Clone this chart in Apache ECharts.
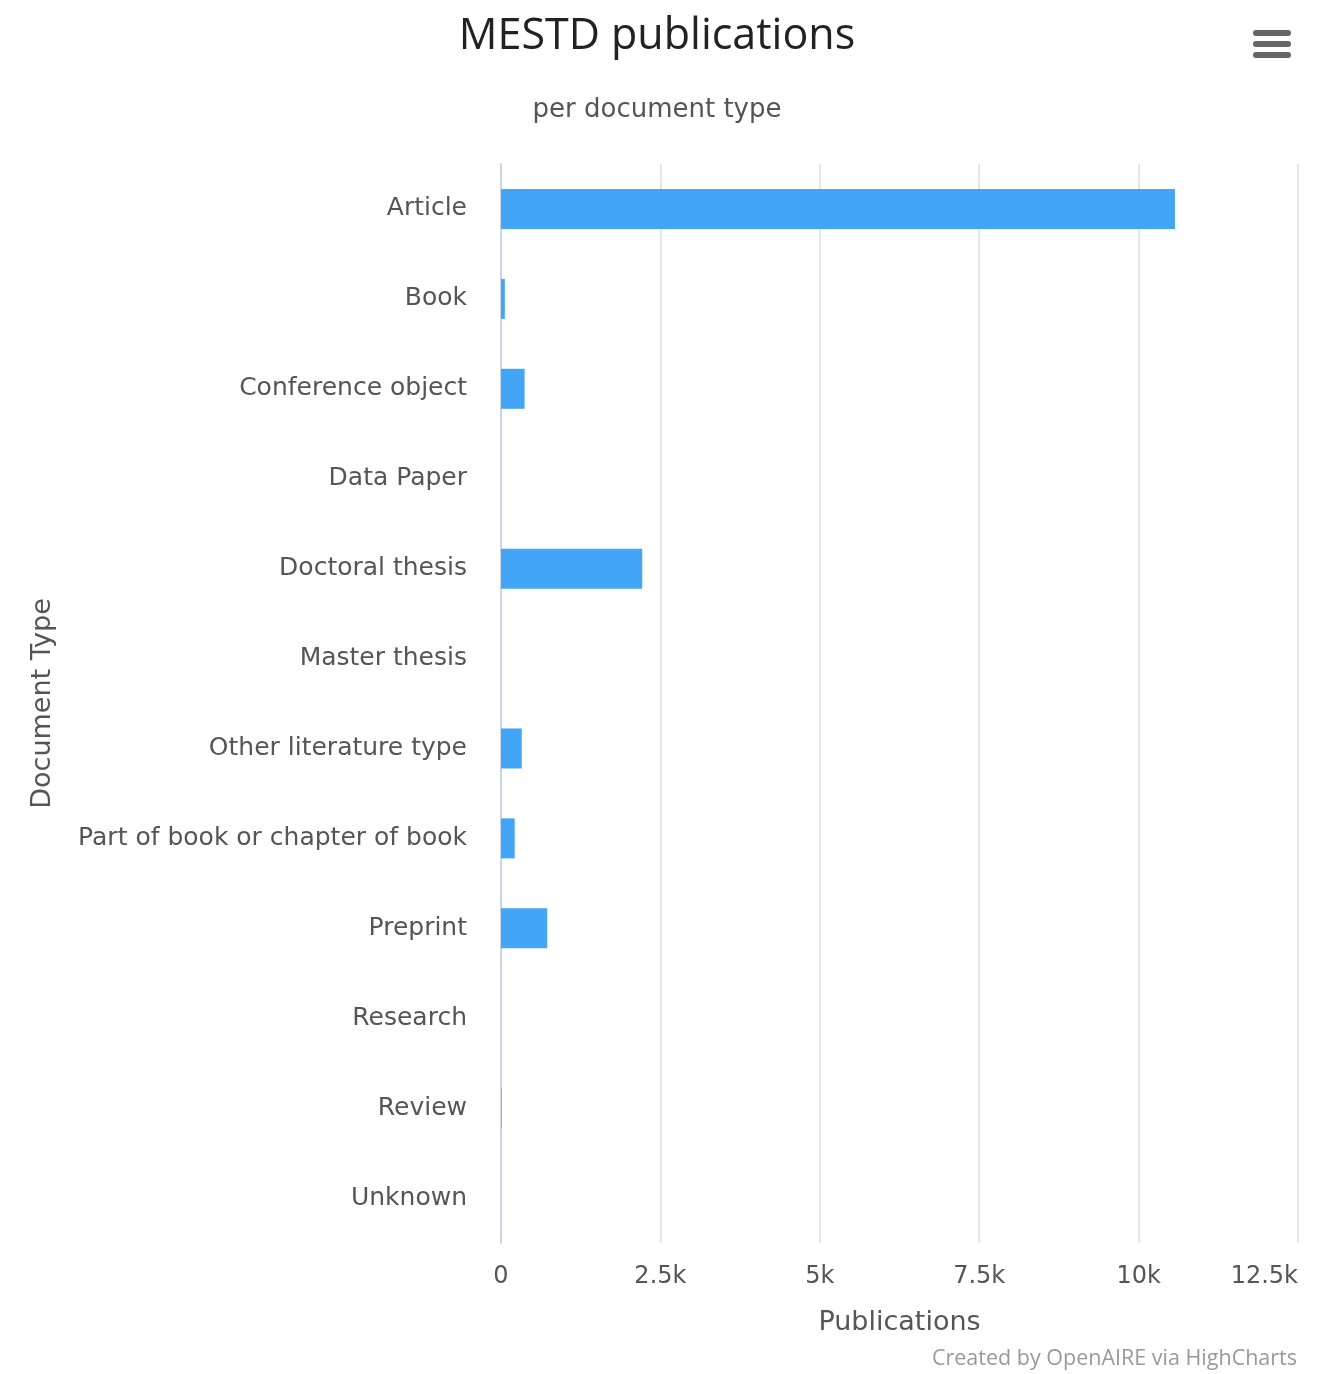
<!DOCTYPE html>
<html>
<head>
<meta charset="utf-8">
<script src="https://cdn.jsdelivr.net/npm/echarts@6/dist/echarts.min.js"></script>
<style>
html,body{margin:0;padding:0;background:#fff;}
#c{width:1332px;height:1374px;}
</style>
</head>
<body>
<div id="c"></div>
<script>
const categories = ["Article","Book","Conference object","Data Paper","Doctoral thesis","Master thesis","Other literature type","Part of book or chapter of book","Preprint","Research","Review","Unknown"];
const publications = [10570, 60, 370, 0, 2215, 0, 325, 215, 725, 0, 8, 0];
const xTicks = [0, 2500, 5000, 7500, 10000, 12500];

const FONT = '"DejaVu Sans", Verdana, sans-serif';
const TFONT = '"Open Sans", "DejaVu Sans", sans-serif';
const chart = echarts.init(document.getElementById('c'), null, {renderer:'canvas'});
chart.setOption({
  animation:false,
  backgroundColor:'#fff',
  grid:{left:501, right:34, top:164, bottom:131, containLabel:false},
  xAxis:{
    type:'value', min:xTicks[0], max:xTicks[xTicks.length-1], interval:2500,
    name:'Publications', nameLocation:'middle', nameGap:66,
    nameTextStyle:{fontFamily:FONT, fontSize:27, color:'#555'},
    axisLine:{show:false}, axisTick:{show:false},
    splitLine:{show:true, lineStyle:{color:'#e6e6e6', width:2}},
    axisLabel:{fontFamily:FONT, fontSize:24, color:'#555', margin:22, alignMaxLabel:'right',
      formatter:function(v){ return v===0 ? '0' : (v/1000)+'k'; }}
  },
  yAxis:{
    type:'category', data:categories, inverse:true,
    name:'Document Type', nameLocation:'middle', nameGap:445, nameRotate:90,
    nameTextStyle:{fontFamily:FONT, fontSize:27, color:'#555'},
    axisLine:{show:true, lineStyle:{color:'#ccd6eb', width:2}},
    axisTick:{show:false},
    axisLabel:{fontFamily:FONT, fontSize:25, color:'#555', margin:34}
  },
  series:[{
    type:'bar', data:publications, barWidth:40,
    itemStyle:{color:'#42a5f5'}
  }],
  graphic:[
    {type:'text', x:657, y:15, style:{text:'MESTD publications', textAlign:'center', fontFamily:TFONT, fontSize:43, fill:'#222'}},
    {type:'text', x:657, y:97, style:{text:'per document type', textAlign:'center', fontFamily:FONT, fontSize:26, fill:'#555'}},
    {type:'text', x:1297, y:1348, style:{text:'Created by OpenAIRE via HighCharts', textAlign:'right', fontFamily:TFONT, fontSize:21.5, fill:'#999'}},
    {type:'rect', shape:{x:1253,y:30,width:38,height:6,r:3}, style:{fill:'#666'}},
    {type:'rect', shape:{x:1253,y:41,width:38,height:6,r:3}, style:{fill:'#666'}},
    {type:'rect', shape:{x:1253,y:52,width:38,height:6,r:3}, style:{fill:'#666'}}
  ]
});
</script>
</body>
</html>
